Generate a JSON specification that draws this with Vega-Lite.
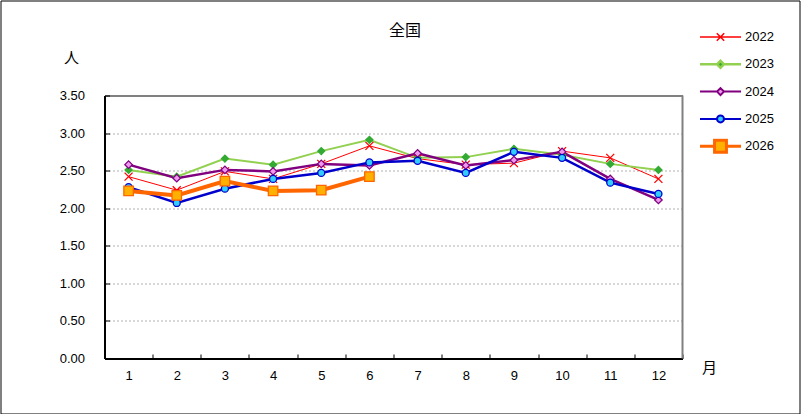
{
  "$schema": "https://vega.github.io/schema/vega-lite/v6.json",
  "autosize": {"type": "none"},
  "padding": {"left": 0.5, "top": 0.5, "right": 1, "bottom": 0.5},
  "width": 799,
  "height": 413,
  "background": "#ffffff",
  "title": {
    "text": "全国",
    "font": "Noto Sans CJK JP",
    "fontSize": 16,
    "fontWeight": "normal",
    "color": "#000000",
    "anchor": "middle",
    "dx": 5,
    "offset": -38.5
  },
  "datasets": {
    "main": [
      {"month": 1, "year": "2022", "value": 2.42},
      {"month": 2, "year": "2022", "value": 2.24},
      {"month": 3, "year": "2022", "value": 2.49},
      {"month": 4, "year": "2022", "value": 2.39},
      {"month": 5, "year": "2022", "value": 2.59},
      {"month": 6, "year": "2022", "value": 2.83},
      {"month": 7, "year": "2022", "value": 2.66},
      {"month": 8, "year": "2022", "value": 2.58},
      {"month": 9, "year": "2022", "value": 2.6},
      {"month": 10, "year": "2022", "value": 2.76},
      {"month": 11, "year": "2022", "value": 2.67},
      {"month": 12, "year": "2022", "value": 2.39},
      {"month": 1, "year": "2023", "value": 2.51},
      {"month": 2, "year": "2023", "value": 2.42},
      {"month": 3, "year": "2023", "value": 2.66},
      {"month": 4, "year": "2023", "value": 2.58},
      {"month": 5, "year": "2023", "value": 2.76},
      {"month": 6, "year": "2023", "value": 2.91},
      {"month": 7, "year": "2023", "value": 2.67},
      {"month": 8, "year": "2023", "value": 2.68},
      {"month": 9, "year": "2023", "value": 2.79},
      {"month": 10, "year": "2023", "value": 2.71},
      {"month": 11, "year": "2023", "value": 2.59},
      {"month": 12, "year": "2023", "value": 2.51},
      {"month": 1, "year": "2024", "value": 2.58},
      {"month": 2, "year": "2024", "value": 2.4},
      {"month": 3, "year": "2024", "value": 2.51},
      {"month": 4, "year": "2024", "value": 2.49},
      {"month": 5, "year": "2024", "value": 2.59},
      {"month": 6, "year": "2024", "value": 2.57},
      {"month": 7, "year": "2024", "value": 2.73},
      {"month": 8, "year": "2024", "value": 2.57},
      {"month": 9, "year": "2024", "value": 2.64},
      {"month": 10, "year": "2024", "value": 2.75},
      {"month": 11, "year": "2024", "value": 2.39},
      {"month": 12, "year": "2024", "value": 2.11},
      {"month": 1, "year": "2025", "value": 2.28},
      {"month": 2, "year": "2025", "value": 2.07},
      {"month": 3, "year": "2025", "value": 2.26},
      {"month": 4, "year": "2025", "value": 2.39},
      {"month": 5, "year": "2025", "value": 2.47},
      {"month": 6, "year": "2025", "value": 2.61},
      {"month": 7, "year": "2025", "value": 2.63},
      {"month": 8, "year": "2025", "value": 2.47},
      {"month": 9, "year": "2025", "value": 2.75},
      {"month": 10, "year": "2025", "value": 2.67},
      {"month": 11, "year": "2025", "value": 2.34},
      {"month": 12, "year": "2025", "value": 2.19},
      {"month": 1, "year": "2026", "value": 2.23},
      {"month": 2, "year": "2026", "value": 2.17},
      {"month": 3, "year": "2026", "value": 2.36},
      {"month": 4, "year": "2026", "value": 2.23},
      {"month": 5, "year": "2026", "value": 2.24},
      {"month": 6, "year": "2026", "value": 2.42}
    ]
  },
  "data": {"name": "main"},
  "layer": [
    {
      "mark": {"type": "line"},
      "encoding": {
        "x": {
          "field": "month",
          "type": "ordinal",
          "scale": {"type": "band", "range": [104, 682], "paddingInner": 0, "paddingOuter": 0},
          "axis": {
            "orient": "bottom",
            "offset": -55,
            "tickBand": "extent",
            "tickSize": -4.5,
            "tickColor": "#000000",
            "tickWidth": 1,
            "domainColor": "#000000",
            "domainWidth": 2,
            "labelAngle": 0,
            "labelPadding": 15,
            "labelFont": "Liberation Sans",
            "labelFontSize": 13,
            "labelColor": "#000000",
            "title": "月",
            "titleX": 708.5,
            "titleY": 8.5,
            "titleAlign": "center",
            "titleBaseline": "middle",
            "titleFont": "Noto Sans CJK JP",
            "titleFontSize": 15,
            "titleFontWeight": "normal",
            "titleColor": "#000000"
          }
        },
        "y": {
          "field": "value",
          "type": "quantitative",
          "scale": {"domain": [0, 3.5], "range": [358, 95], "nice": false, "zero": false},
          "axis": {
            "orient": "left",
            "offset": -104,
            "values": [0, 0.5, 1, 1.5, 2, 2.5, 3, 3.5],
            "format": ".2f",
            "domainColor": "#000000",
            "domainWidth": 2,
            "tickColor": "#000000",
            "tickSize": -5,
            "tickWidth": 1,
            "labelPadding": 25,
            "labelFont": "Liberation Sans",
            "labelFontSize": 13,
            "labelColor": "#000000",
            "grid": true,
            "gridColor": {"condition": {"test": "datum.value === 3.5", "value": "#808080"}, "value": "#b0b0b0"},
            "gridDash": {"condition": {"test": "datum.value === 3.5", "value": []}, "value": [2, 2]},
            "gridWidth": {"condition": {"test": "datum.value === 3.5", "value": 2}, "value": 1},
            "gridOpacity": {"condition": {"test": "datum.value === 0", "value": 0}, "value": 1},
            "title": "人",
            "titleAngle": 0,
            "titleX": -33.5,
            "titleY": 56.5,
            "titleAlign": "center",
            "titleBaseline": "middle",
            "titleFont": "Noto Sans CJK JP",
            "titleFontSize": 15,
            "titleFontWeight": "normal",
            "titleColor": "#000000"
          }
        },
        "color": {
          "field": "year",
          "type": "nominal",
          "scale": {
            "domain": ["2022", "2023", "2024", "2025", "2026"],
            "range": ["#ff0000", "#92d050", "#800080", "#0000cc", "#ff6600"]
          },
          "legend": {
            "orient": "none",
            "legendX": 699.5,
            "legendY": 28.5,
            "title": null,
            "padding": 0,
            "symbolSize": 1681,
            "clipHeight": 16,
            "rowPadding": 11.3,
            "labelOffset": 4,
            "labelFont": "Liberation Sans",
            "labelFontSize": 13,
            "labelColor": "#000000",
            "encode": {
              "symbols": {
                "update": {
                  "x": {"value": 20.5},
                  "shape": {"signal": "['M-1,0H1M-0.18,-0.18L0.18,0.18M-0.18,0.18L0.18,-0.18', 'M-1,0H-0.17M0.17,0H1M0,-0.17L0.17,0L0,0.17L-0.17,0Z', 'M-1,0H-0.17M0.17,0H1M0,-0.17L0.17,0L0,0.17L-0.17,0Z', 'M-1,0H-0.17M0.17,0H1M-0.17,0A0.17,0.17,0,1,0,0.17,0A0.17,0.17,0,1,0,-0.17,0Z', 'M-1,0H-0.29M0.29,0H1M-0.29,-0.29H0.29V0.29H-0.29Z'][datum.index]"},
                  "fill": {"signal": "['#ff99cc', '#33aa33', '#ee99ee', '#33ccff', '#ffb000'][datum.index]"},
                  "stroke": {"signal": "['#ff0000', '#92d050', '#800080', '#0000cc', '#ff6600'][datum.index]"},
                  "strokeWidth": {"signal": "[1.5, 2.5, 2, 2, 3][datum.index]"},
                  "size": {"value": 1681},
                  "opacity": {"value": 1},
                  "fillOpacity": {"value": 1},
                  "strokeOpacity": {"value": 1}
                }
              },
              "labels": {
                "update": {
                  "x": {"value": 45}
                }
              }
            }
          }
        },
        "strokeWidth": {
          "field": "year",
          "type": "ordinal",
          "scale": {"type": "ordinal", "range": [1, 2, 2.5, 2.5, 4]},
          "legend": null
        }
      }
    },
    {
      "mark": {"type": "point", "opacity": 1, "strokeWidth": 1.3},
      "encoding": {
        "x": {"field": "month", "type": "ordinal"},
        "y": {"field": "value", "type": "quantitative"},
        "shape": {
          "field": "year",
          "type": "nominal",
          "scale": {"range": ["M-1,-1L1,1M-1,1L1,-1", "diamond", "diamond", "circle", "square"]},
          "legend": null
        },
        "fill": {
          "field": "year",
          "type": "nominal",
          "scale": {"range": ["#ff99cc", "#33aa33", "#ee99ee", "#33ccff", "#ffb000"]},
          "legend": null
        },
        "stroke": {
          "field": "year",
          "type": "nominal",
          "scale": {"range": ["#ff0000", "#33aa33", "#800080", "#0000cc", "#ff6600"]},
          "legend": null
        },
        "size": {
          "field": "year",
          "type": "ordinal",
          "scale": {"type": "ordinal", "range": [64, 49, 56, 49, 90]},
          "legend": null
        }
      }
    },
    {
      "data": {"values": [{}]},
      "mark": {"type": "rule", "color": "#808080", "strokeWidth": 2},
      "encoding": {
        "x": {"datum": 12, "type": "ordinal", "bandPosition": 1},
        "y": {"datum": 0, "type": "quantitative"},
        "y2": {"datum": 3.5}
      }
    }
  ],
  "config": {
    "view": {"stroke": "#000000", "strokeWidth": 1}
  }
}
